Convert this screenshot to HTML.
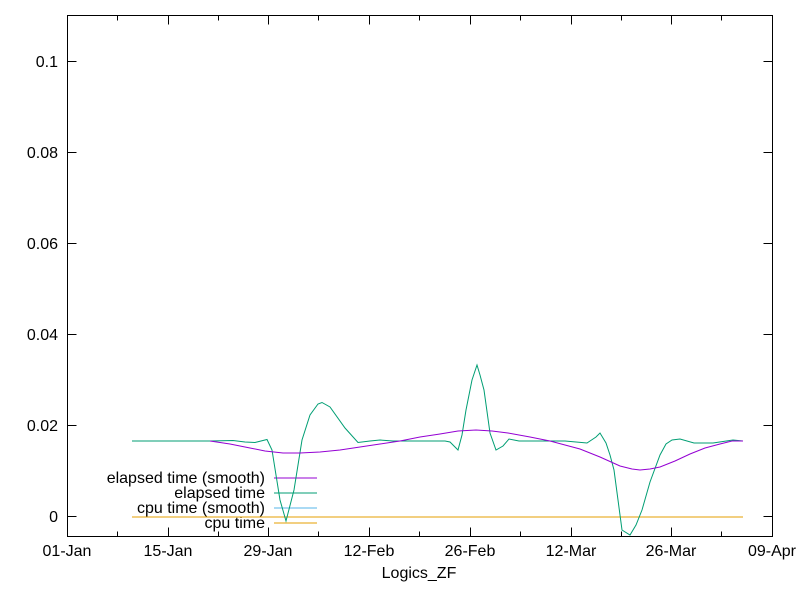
<!DOCTYPE html>
<html><head><style>body{margin:0;background:#fff}svg{display:block}text{font-family:"Liberation Sans",sans-serif;font-size:16px;fill:#000}</style></head><body>
<svg width="800" height="600" xmlns="http://www.w3.org/2000/svg">
<rect width="800" height="600" fill="#fff"/>
<g stroke="#000" stroke-width="1" fill="none">
<rect x="67.5" y="15.5" width="705" height="521"/>
<path d="M67.5 516.5h9M772.5 516.5h-9M67.5 425.5h9M772.5 425.5h-9M67.5 334.5h9M772.5 334.5h-9M67.5 243.5h9M772.5 243.5h-9M67.5 152.5h9M772.5 152.5h-9M67.5 61.5h9M772.5 61.5h-9"/>
<path d="M67.5 536.5v-9M168.5 536.5v-9M268.5 536.5v-9M369.5 536.5v-9M470.5 536.5v-9M571.5 536.5v-9M671.5 536.5v-9M772.5 536.5v-9M67.5 15.5v9M168.5 15.5v9M268.5 15.5v9M369.5 15.5v9M470.5 15.5v9M571.5 15.5v9M671.5 15.5v9M772.5 15.5v9"/>
<path d="M117.5 536.5v-5M218.5 536.5v-5M318.5 536.5v-5M419.5 536.5v-5M520.5 536.5v-5M621.5 536.5v-5M721.5 536.5v-5M117.5 15.5v5M218.5 15.5v5M318.5 15.5v5M419.5 15.5v5M520.5 15.5v5M621.5 15.5v5M721.5 15.5v5"/>
</g>
<g text-anchor="end">
<text x="58" y="522">0</text><text x="58" y="431">0.02</text><text x="58" y="340">0.04</text><text x="58" y="249">0.06</text><text x="58" y="158">0.08</text><text x="58" y="67">0.1</text>
</g>
<g text-anchor="middle">
<text x="67" y="556">01-Jan</text><text x="168" y="556">15-Jan</text><text x="268" y="556">29-Jan</text><text x="369" y="556">12-Feb</text><text x="470" y="556">26-Feb</text><text x="571" y="556">12-Mar</text><text x="671" y="556">26-Mar</text><text x="772" y="556">09-Apr</text>
<text x="419" y="578">Logics_ZF</text>
</g>
<g text-anchor="end">
<text x="265" y="483">elapsed time (smooth)</text><text x="265" y="498">elapsed time</text><text x="265" y="513">cpu time (smooth)</text><text x="265" y="528">cpu time</text>
</g>
<g fill="none" stroke-width="1">
<path d="M274 478h43" stroke="#9400d3"/><path d="M274 493h43" stroke="#009e73"/><path d="M274 508h43" stroke="#56b4e9"/><path d="M274 523h43" stroke="#e69f00"/>
<path d="M132 517H743" stroke="#e69f00"/>
<path d="M132 441H210L233 440.5L245 442L255 442.5L267 439.5L272 450L280 500L286 521L294 490L302 440L310 415L318 404L322 402.5L330 407L345 428L358 442.5L370 441L380 440L393 441L445 441L450 442L458 450L462 435L466 410L472 380L477 365L480 375L484 390L490 433L496 450L503 446L509 439L519 441L565 441L587 443L596 437L600 433L606 443L610 455L614 470L618 500L622 530L630 535L636 525L642 510L650 482L660 455L666 444L672 440L680 439L694 443L713 443L733 440L743 441" stroke="#009e73"/>
<path d="M210 441L230 444L250 448L265 451L283 453L300 453L320 452L340 450L360 447L380 444L400 441L420 437L440 434L458 431L476 430L492 431L508 433L530 437L550 441L565 445L580 449L600 457L620 466L632 469L640 470L650 469L660 467L675 461L690 454L705 448L720 444L732 441L743 441" stroke="#9400d3"/>
</g>
</svg>
</body></html>
